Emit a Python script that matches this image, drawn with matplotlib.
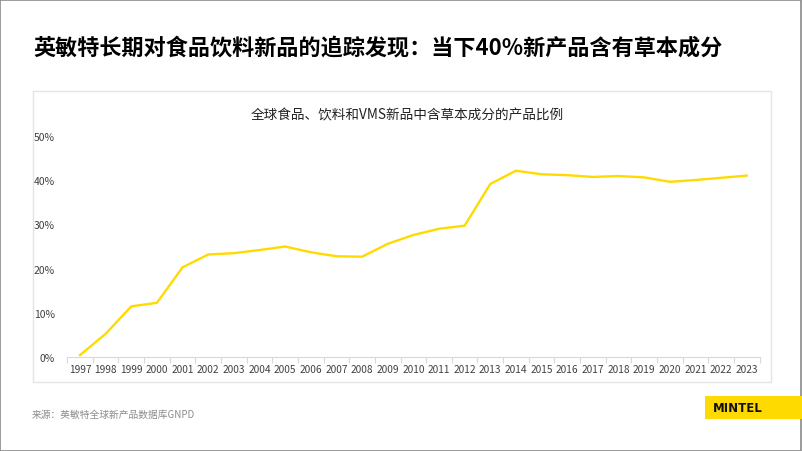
import matplotlib
matplotlib.use("Agg")
import matplotlib.pyplot as plt
from matplotlib.patches import Rectangle
from matplotlib.ticker import FuncFormatter

plt.rcParams["font.family"] = ["Noto Sans CJK SC", "DejaVu Sans"]

years = [str(y) for y in range(1997, 2024)]
share = [0.5, 5.3, 11.5, 12.3, 20.3, 23.2, 23.5, 24.2, 25.0, 23.7, 22.8, 22.7, 25.6,
         27.6, 29.0, 29.7, 39.1, 42.1, 41.3, 41.1, 40.7, 40.9, 40.6, 39.6, 40.0, 40.5, 41.0]
yticks = [0, 10, 20, 30, 40, 50]

W, H = 802, 452
YELLOW = "#FFDA00"
TXT = "#404040"


def fx(px):
    return px / W


def fy(py):
    return 1 - py / H


fig = plt.figure(figsize=(W / 100, H / 100), dpi=100)
fig.patch.set_facecolor("white")

# outer frame + chart panel
fig.add_artist(Rectangle((0.0005, 0.001), 0.998, 0.997, transform=fig.transFigure,
                         fill=False, ec="#8a8a8a", lw=1.2))
fig.add_artist(Rectangle((fx(33), fy(383)), fx(771 - 33), (383 - 92) / H,
                         transform=fig.transFigure, fill=False, ec="#e4e4e4", lw=1))

fig.text(fx(33), fy(48), "英敏特长期对食品饮料新品的追踪发现：当下40%新产品含有草本成分",
         fontsize=15.9, fontweight="bold", color="black", va="center", ha="left")
fig.text(fx(407), fy(115), "全球食品、饮料和VMS新品中含草本成分的产品比例",
         fontsize=9.8, color="#222222", va="center", ha="center")
fig.text(fx(32), fy(415), "来源：英敏特全球新产品数据库GNPD",
         fontsize=7, color="#8c8c8c", va="center", ha="left")

# MINTEL badge
fig.add_artist(Rectangle((fx(705), fy(420)), fx(97), 23 / H, transform=fig.transFigure,
                         fc=YELLOW, ec="none"))
fig.text(fx(713), fy(408.5), "MINTEL", fontsize=8.5, fontweight="bold", color="#111111",
         va="center", ha="left", family="DejaVu Sans")

ax = fig.add_axes([fx(67.2), fy(358.3), fx(759.5 - 67.2), (358.3 - 136.7) / H])
x = list(range(len(years)))
ax.plot(x, [v / 100 for v in share], color=YELLOW, lw=1.7, solid_joinstyle="round")
ax.set_xlim(-0.5, len(years) - 0.5)
ax.set_ylim(0, 0.5)
ax.set_yticks([t / 100 for t in yticks])
ax.yaxis.set_major_formatter(FuncFormatter(lambda v, _: f"{v * 100:.0f}%"))
ax.set_xticks(x)
ax.set_xticklabels(years)
ax.set_xticks([i - 0.5 for i in range(len(years) + 1)], minor=True)
ax.tick_params(axis="x", which="major", length=0, pad=5, labelsize=7.3, colors=TXT)
ax.tick_params(axis="x", which="minor", length=4, color="#d9d9d9", width=0.8)
ax.tick_params(axis="y", length=0, pad=9, labelsize=7.5, colors=TXT)
for s in ["top", "right", "left"]:
    ax.spines[s].set_visible(False)
ax.spines["bottom"].set_color("#d9d9d9")
ax.spines["bottom"].set_linewidth(0.8)
ax.set_facecolor("none")

fig.savefig("out.png", dpi=100)
